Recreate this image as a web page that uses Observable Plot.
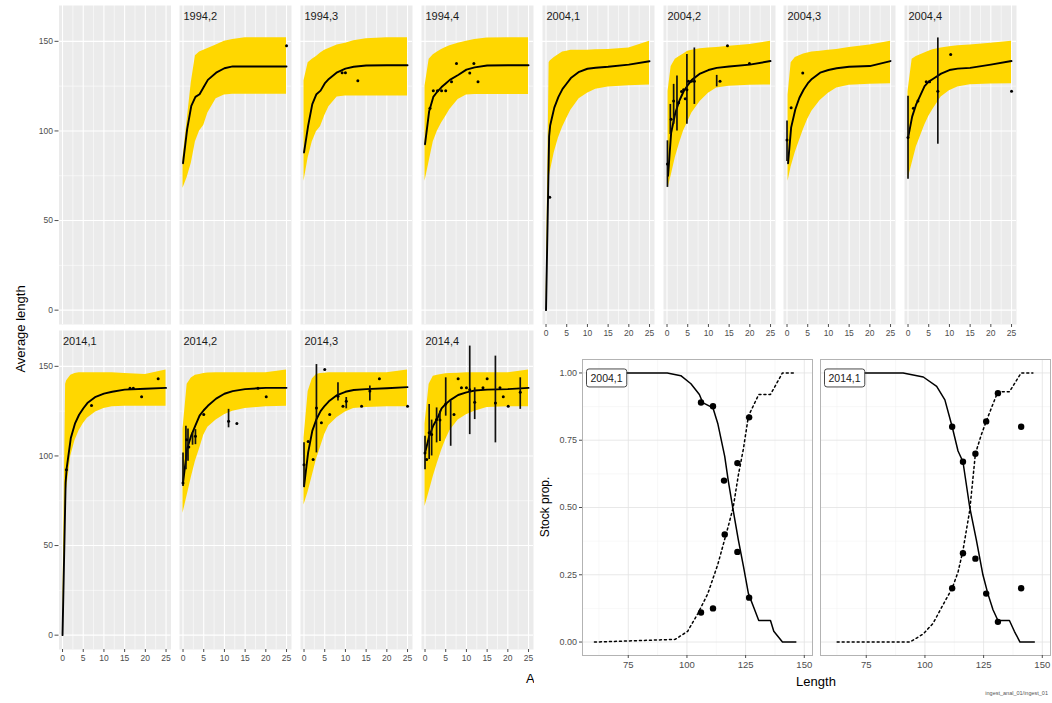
<!DOCTYPE html>
<html><head><meta charset="utf-8">
<script src="https://cdn.jsdelivr.net/npm/d3@7"></script>
<script src="https://cdn.jsdelivr.net/npm/@observablehq/plot@0.6"></script>
<style>
body{margin:0;background:#fff;}
#root{position:relative;width:1052px;height:703px;overflow:hidden;background:#fff;font-family:"Liberation Sans",Arial,Helvetica,sans-serif;}
.t{position:absolute;white-space:nowrap;color:#000;line-height:1;}
</style></head><body><div id="root"></div>
<script>
// ---------- growth facets: ages of the modelled curves ----------
const ageStd = [0, 1, 2, 3, 4, 5, 6, 8, 10, 12, 15, 20, 25];
const ageBirth = [0, 0.75, 1, 2, 3, 4, 5, 6, 8, 10, 12, 15, 20, 25];
const ageQ = [0.25, 1, 2, 3, 4, 5, 6, 8, 10, 12, 15, 20, 25];

// 1994,2
const mean_1994_2 = [82, 101, 114, 119, 120.5, 124.5, 128.5, 132.5, 135, 136, 136, 136, 136];
const hi_1994_2 = [85, 106, 127, 142, 144, 145, 146, 148, 150, 151, 152, 152, 152];
const lo_1994_2 = [68, 74, 82, 94, 100, 103, 110, 118, 120, 120.5, 120.5, 120.5, 120.5];
const obs_1994_2 = [[25, 147.5]];
const bars_1994_2 = [];
// 1994,3
const mean_1994_3 = [88, 103, 115, 120.5, 122.5, 126.5, 129, 132.7, 134.8, 135.8, 136.5, 136.7, 136.7];
const hi_1994_3 = [128, 138, 140, 141.5, 143.5, 145, 146, 148, 149, 150.3, 151.5, 152, 152];
const lo_1994_3 = [72, 85, 94, 99.5, 102.5, 108.5, 113.5, 119, 119.5, 119.5, 119.5, 119.5, 119.5];
const obs_1994_3 = [[9.2, 132.5], [10, 132.5], [13, 128]];
const bars_1994_3 = [];
// 1994,4
const mean_1994_4 = [92.6, 111, 119, 122, 124.5, 126.5, 128.5, 131.2, 134.2, 135.5, 136.5, 136.7, 136.7];
const hi_1994_4 = [125, 140, 142.5, 144, 145.5, 146.5, 147.5, 149, 150, 151, 151.8, 152, 152];
const lo_1994_4 = [72, 83, 94, 100, 104.5, 108, 112, 117.5, 120, 120.4, 120.4, 120.4, 120.4];
const obs_1994_4 = [[1.2, 112.6], [2, 122.5], [3, 122.5], [4, 122.5], [5, 122.5], [6.4, 127.4], [7.6, 137.6], [10.8, 132.4], [11.8, 137.6], [12.8, 127.4]];
const bars_1994_4 = [];
// 2004,1
const mean_2004_1 = [0, 97, 103, 113, 119, 123.5, 126.5, 129.5, 133, 134.7, 135.3, 135.8, 137, 138.9];
const hi_2004_1 = [0, 138, 139, 141, 142.5, 144, 144.5, 145, 145, 145, 145.3, 145.5, 146.3, 150];
const lo_2004_1 = [0, 74, 77, 88, 96, 102, 107, 111.5, 118, 121, 123.3, 124.5, 125.2, 125.7];
const obs_2004_1 = [[0.9, 63]];
const bars_2004_1 = [];
// 2004,2
const mean_2004_2 = [75, 99, 110, 117, 122, 125.5, 128.5, 132, 134, 135.2, 136, 137, 139];
const hi_2004_2 = [122, 136, 140, 141.5, 143, 144.5, 145, 145.8, 146.3, 146.5, 147.2, 148.2, 150];
const lo_2004_2 = [68, 75, 85, 93, 100, 105, 110, 116.5, 121, 124, 125, 125.5, 125.7];
const obs_2004_2 = [[0.1, 81.5], [1, 106.5], [1.6, 116.7], [2.8, 115.7], [3.5, 122], [4, 123], [4.4, 118], [4.8, 123], [5.2, 127.8], [5.9, 127.8], [6.6, 127.8], [12.8, 127.8], [14.6, 147.6], [19.9, 137.6]];
const bars_2004_2 = [[0.1, 68.5, 94.5], [0.8, 98, 114.8], [1.6, 103.7, 126], [2.4, 100, 130.6], [4.8, 103.7, 142.6], [6.6, 114.8, 146.3], [12, 124.6, 131]];
// 2004,3
const mean_2004_3 = [82, 102, 112, 118.5, 123, 126.5, 129, 132.5, 134, 135, 135.8, 136.2, 139];
const hi_2004_3 = [120, 138, 141, 142, 143, 143.5, 144, 144.5, 145, 145.5, 146.5, 148, 150];
const lo_2004_3 = [72, 80, 88, 94.5, 101, 106.5, 111, 117, 121, 124, 125.5, 126, 126.3];
const obs_2004_3 = [[0, 95], [1, 113], [3.8, 132.4]];
const bars_2004_3 = [[0, 83, 105.6]];
// 2004,4
const mean_2004_4 = [96, 108, 115, 120, 125, 127.5, 129, 132, 134, 134.8, 135.2, 137, 139];
const hi_2004_4 = [122, 140, 141.5, 142.5, 143.5, 144.5, 145.3, 146.3, 147, 147.5, 148, 149, 150];
const lo_2004_4 = [73, 82, 91, 97, 103, 108, 112, 119, 122.5, 124.5, 125.8, 126.2, 126.3];
const obs_2004_4 = [[0, 96.3], [1.3, 112.6], [2.4, 116.7], [4.4, 127.4], [5.2, 127.4], [7.2, 122.2], [10.3, 142.6], [25, 122.2]];
const bars_2004_4 = [[0, 73, 119.4], [7.2, 92.6, 151.9]];
// 2014,1
const mean_2014_1 = [0, 85, 93, 110, 118, 123, 126.5, 129.5, 133, 134.8, 135.8, 137, 137.5, 138];
const hi_2014_1 = [0, 140, 142, 145, 146, 146.4, 146.4, 146.4, 146.4, 146.4, 146.4, 146, 145.5, 148];
const lo_2014_1 = [0, 77, 82, 100, 108.5, 114, 118, 121, 124.5, 126.5, 127.5, 127.8, 127.8, 127.8];
const obs_2014_1 = [[0.94, 92.3], [7, 128.2], [16.3, 137.8], [17.1, 137.8], [19.1, 133], [23.1, 143.1]];
const bars_2014_1 = [];
// 2014,2
const mean_2014_2 = [85, 104, 111.5, 117, 122.5, 125.5, 128, 132, 134.7, 136.2, 137.3, 138, 138];
const hi_2014_2 = [115, 140, 143.5, 145, 145.5, 146, 146.3, 146.4, 146.4, 146.4, 146.4, 146.4, 148];
const lo_2014_2 = [68, 78, 88, 97, 104, 111.5, 116, 120, 123, 125, 126.5, 127.5, 127.8];
const obs_2014_2 = [[0, 84.9], [0.9, 109], [1.4, 105], [3, 111], [5, 123.1], [11, 119.4], [13, 118.1], [18.1, 137.8], [20.1, 133]];
const bars_2014_2 = [[0, 83, 101.7], [0.7, 92.3, 116.6], [1.2, 97, 115], [2.3, 106, 113], [3, 106.3, 114.7], [11, 115.7, 126]];
// 2014,3
const mean_2014_3 = [83, 102, 114, 120.5, 125, 128, 130.5, 134, 135.8, 136.8, 137.3, 137.8, 138.4];
const hi_2014_3 = [110, 136, 143, 145.5, 146, 146.2, 146.4, 146.4, 146.4, 146.4, 146.4, 146.4, 148];
const lo_2014_3 = [72.7, 80, 89, 98, 105, 112, 117, 121.5, 124.5, 126.5, 127, 127.4, 127.4];
const obs_2014_3 = [[0, 95.1], [1, 108], [2.2, 98], [3, 126.8], [4.2, 118.5], [5, 148.3], [6.2, 123.1], [8.2, 133.3], [9.4, 127.7], [10.2, 130.5], [13.9, 127.7], [15.9, 136.2], [18.2, 143.1], [25, 127.7]];
const bars_2014_3 = [[0, 83, 107.3], [3, 101.7, 151], [8.2, 130.6, 140.9], [10.2, 126.3, 132.6], [15.9, 130.6, 139]];
// 2014,4
const mean_2014_4 = [101.7, 111, 117, 121, 126.5, 129, 131, 134, 135.5, 136.5, 137, 137.3, 138];
const hi_2014_4 = [118, 140, 144.5, 145, 145.5, 145.8, 146, 146.2, 146.4, 146.4, 146.4, 146.4, 148];
const lo_2014_4 = [71.8, 80, 88.6, 96, 103, 109, 114, 120, 123, 125, 127, 127.4, 127.4];
const obs_2014_4 = [[0, 101.7], [0.4, 98], [1, 112.9], [1.6, 112], [2.8, 120.3], [3.6, 120], [5, 129], [7, 123.1], [8, 143.1], [8.8, 138], [10, 138], [10.8, 137], [12, 130], [14, 138], [15, 143.1], [17, 129.5], [18.1, 138], [18.9, 133], [20.1, 127.7], [23, 135.5]];
const bars_2014_4 = [[0, 92.3, 111], [1, 98, 128.7], [1.6, 100, 120], [2.8, 107.3, 126.8], [3.6, 108, 125], [5, 122.2, 143.6], [6.2, 105.4, 130.6], [10.8, 111.9, 161.3], [12, 120.3, 138], [17, 107.3, 155.7], [23, 126, 143.6]];

// axis ticks
const ageTicks = [0, 5, 10, 15, 20, 25];
const ageMinor = [2.5, 7.5, 12.5, 17.5, 22.5];
const lenTicks = [0, 50, 100, 150];
const lenMinor = [25, 75, 125];

// ---------- stock proportion panels ----------
const sp_2004_1_solidL = [60.6, 91.6, 97.4, 101.7, 105.3, 106.7, 111.1, 113.2, 116.1, 117.6, 119.7, 121.9, 124.1, 126.2, 128.4, 130.6, 135.6, 137.0, 140.7, 146.4];
const sp_2004_1_solidP = [1, 1, 0.99, 0.96, 0.92, 0.89, 0.87, 0.81, 0.69, 0.60, 0.49, 0.38, 0.28, 0.18, 0.13, 0.08, 0.08, 0.04, 0, 0];
const sp_2004_1_dotL = [60.6, 95.0, 100.3, 104.6, 108.9, 113.2, 117.6, 119.7, 121.9, 124.1, 126.2, 130.6, 135.6, 140.7, 146.4];
const sp_2004_1_dotP = [0, 0.01, 0.04, 0.105, 0.18, 0.29, 0.43, 0.50, 0.62, 0.72, 0.84, 0.92, 0.92, 1, 1];
const sp_2004_1_obs = [[106, 0.89], [111.1, 0.876], [115.8, 0.60], [116.1, 0.40], [121.5, 0.335], [121.5, 0.665], [126.5, 0.835], [126.5, 0.165], [106, 0.11], [111.1, 0.125]];

const sp_2014_1_solidL = [62.6, 90.7, 99.3, 105, 108.5, 111.6, 114.1, 116.2, 119.1, 121.9, 124.7, 126.8, 129, 131.1, 136, 138.1, 140.5, 146.6];
const sp_2014_1_solidP = [1, 1, 0.985, 0.95, 0.90, 0.80, 0.71, 0.67, 0.50, 0.38, 0.25, 0.18, 0.12, 0.08, 0.08, 0.04, 0, 0];
const sp_2014_1_dotL = [62.6, 93.6, 99.3, 103.5, 107.8, 111.6, 114.1, 116.2, 119.1, 121.5, 124.0, 126.1, 129, 131.1, 136, 141, 146];
const sp_2014_1_dotP = [0, 0, 0.03, 0.07, 0.14, 0.2, 0.26, 0.34, 0.49, 0.70, 0.77, 0.82, 0.885, 0.93, 0.93, 1, 1];
const sp_2014_1_obs = [[111.6, 0.80], [116.2, 0.67], [121.5, 0.70], [126.1, 0.82], [131.1, 0.925], [141, 0.80], [111.6, 0.20], [116.2, 0.33], [121.5, 0.31], [126.1, 0.18], [131.1, 0.075], [141, 0.20]];

const lengthTicks = [75, 100, 125, 150];
const lengthMinor = [62.5, 87.5, 112.5, 137.5];
const propTicks = [0, 0.25, 0.5, 0.75, 1];
const propMinor = [0.125, 0.375, 0.625, 0.875];

// ---------- layout ----------
const FONT = "Liberation Sans, Arial, Helvetica, sans-serif";
const root = document.getElementById("root");
const COL0 = 58.5, COL_STEP = 120.8, PW = 112, PH = 319;
const ROW_TOP = [5, 330];

function place(el, left, top) {
  el.style.position = "absolute";
  el.style.left = left + "px";
  el.style.top = top + "px";
  root.appendChild(el);
  return el;
}
function addText(txt, x, cy, size, rot, color, anchorRight) {
  const d = document.createElement("div");
  d.className = "t";
  d.textContent = txt;
  d.style.fontSize = size + "px";
  d.style.left = x + "px";
  d.style.top = cy + "px";
  if (color) d.style.color = color;
  d.style.transform = (anchorRight ? "translate(-100%,-50%)" : "translate(-50%,-50%)") + (rot ? " rotate(" + rot + "deg)" : "");
  root.appendChild(d);
  return d;
}

const growth = [
  {label: "1994,2", row: 0, col: 1, age: ageStd, mean: mean_1994_2, lo: lo_1994_2, hi: hi_1994_2, obs: obs_1994_2, bars: bars_1994_2},
  {label: "1994,3", row: 0, col: 2, age: ageStd, mean: mean_1994_3, lo: lo_1994_3, hi: hi_1994_3, obs: obs_1994_3, bars: bars_1994_3},
  {label: "1994,4", row: 0, col: 3, age: ageStd, mean: mean_1994_4, lo: lo_1994_4, hi: hi_1994_4, obs: obs_1994_4, bars: bars_1994_4},
  {label: "2004,1", row: 0, col: 4, age: ageBirth, mean: mean_2004_1, lo: lo_2004_1, hi: hi_2004_1, obs: obs_2004_1, bars: bars_2004_1},
  {label: "2004,2", row: 0, col: 5, age: ageQ, mean: mean_2004_2, lo: lo_2004_2, hi: hi_2004_2, obs: obs_2004_2, bars: bars_2004_2},
  {label: "2004,3", row: 0, col: 6, age: ageQ, mean: mean_2004_3, lo: lo_2004_3, hi: hi_2004_3, obs: obs_2004_3, bars: bars_2004_3},
  {label: "2004,4", row: 0, col: 7, age: ageStd, mean: mean_2004_4, lo: lo_2004_4, hi: hi_2004_4, obs: obs_2004_4, bars: bars_2004_4},
  {label: "2014,1", row: 1, col: 0, age: ageBirth, mean: mean_2014_1, lo: lo_2014_1, hi: hi_2014_1, obs: obs_2014_1, bars: bars_2014_1},
  {label: "2014,2", row: 1, col: 1, age: ageStd, mean: mean_2014_2, lo: lo_2014_2, hi: hi_2014_2, obs: obs_2014_2, bars: bars_2014_2},
  {label: "2014,3", row: 1, col: 2, age: ageStd, mean: mean_2014_3, lo: lo_2014_3, hi: hi_2014_3, obs: obs_2014_3, bars: bars_2014_3},
  {label: "2014,4", row: 1, col: 3, age: ageStd, mean: mean_2014_4, lo: lo_2014_4, hi: hi_2014_4, obs: obs_2014_4, bars: bars_2014_4}
];

function growthPanel(p, row, col) {
  const xAxis = (row === 0 && col >= 4) || row === 1;
  const yAxis = col === 0;
  const mL = yAxis ? COL0 : 0;
  const mB = xAxis ? 24 : 0;
  const marks = [
    Plot.frame({fill: "#EBEBEB", stroke: "none"}),
    Plot.ruleX(ageMinor, {stroke: "#fff", strokeWidth: 0.55}),
    Plot.ruleY(lenMinor, {stroke: "#fff", strokeWidth: 0.55}),
    Plot.ruleX(ageTicks, {stroke: "#fff", strokeWidth: 1.1}),
    Plot.ruleY(lenTicks, {stroke: "#fff", strokeWidth: 1.1})
  ];
  if (p) {
    const curve = p.age.map((a, i) => ({age: a, mean: p.mean[i], lo: p.lo[i], hi: p.hi[i]}));
    const obs = p.obs.map(([a, l]) => ({age: a, len: l}));
    const bars = p.bars.map(([a, lo, hi]) => ({age: a, lo, hi}));
    marks.push(
      Plot.areaY(curve, {x: "age", y1: "lo", y2: "hi", fill: "#FFD700"}),
      Plot.line(curve, {x: "age", y: "mean", stroke: "#000", strokeWidth: 1.9}),
      Plot.ruleX(bars, {x: "age", y1: "lo", y2: "hi", stroke: "#111", strokeWidth: 1.7}),
      Plot.dot(obs, {x: "age", y: "len", r: 1.5, fill: "#000", stroke: "none"}),
      Plot.text([p.label], {text: d => d, frameAnchor: "top-left", dx: 4, dy: 7, fontSize: 11, fill: "#1A1A1A"})
    );
  }
  if (xAxis) marks.push(Plot.axisX({ticks: ageTicks, tickSize: 3, tickPadding: 2, fontSize: 8.5, color: "#4D4D4D", label: null}));
  if (yAxis) marks.push(Plot.axisY({ticks: lenTicks, tickSize: 4, tickPadding: 2, fontSize: 8.5, color: "#4D4D4D", label: null}));
  const svg = Plot.plot({
    width: mL + PW, height: PH + mB,
    marginLeft: mL, marginRight: 0, marginTop: 0, marginBottom: mB,
    x: xAxis ? {domain: [-0.85, 26.2]} : {domain: [-0.85, 26.2], axis: null},
    y: yAxis ? {domain: [-8, 170]} : {domain: [-8, 170], axis: null},
    style: {background: "transparent", fontFamily: FONT, overflow: "visible"},
    marks
  });
  place(svg, COL0 + COL_STEP * col - mL, ROW_TOP[row]);
}

// empty first facet
growthPanel(null, 0, 0);
for (const p of growth) growthPanel(p, p.row, p.col);

// axis titles of the growth grid
addText("Average length", 20, 329, 13, -90);
addText("Age", 537.5, 678, 13, 0);

// white overlay for the stock-proportion figure
const cover = document.createElement("div");
cover.style.background = "#fff";
cover.style.width = "518px";
cover.style.height = "363px";
place(cover, 534, 340);

const stocks = [
  {label: "2004,1", left: 582, solidL: sp_2004_1_solidL, solidP: sp_2004_1_solidP, dotL: sp_2004_1_dotL, dotP: sp_2004_1_dotP, obs: sp_2004_1_obs, yAxis: true},
  {label: "2014,1", left: 820, solidL: sp_2014_1_solidL, solidP: sp_2014_1_solidP, dotL: sp_2014_1_dotL, dotP: sp_2014_1_dotP, obs: sp_2014_1_obs, yAxis: false}
];

for (const s of stocks) {
  const mL = s.yAxis ? 47 : 0, mB = 22;
  const solid = s.solidL.map((l, i) => ({L: l, p: s.solidP[i]}));
  const dotted = s.dotL.map((l, i) => ({L: l, p: s.dotP[i]}));
  const obs = s.obs.map(([l, p]) => ({L: l, p}));
  const marks = [
    Plot.frame({fill: "#fff", stroke: "none"}),
    Plot.ruleX(lengthMinor, {stroke: "#F0F0F0", strokeWidth: 0.5}),
    Plot.ruleY(propMinor, {stroke: "#F0F0F0", strokeWidth: 0.5}),
    Plot.ruleX(lengthTicks, {stroke: "#E2E2E2", strokeWidth: 0.8}),
    Plot.ruleY(propTicks, {stroke: "#E2E2E2", strokeWidth: 0.8}),
    Plot.line(solid, {x: "L", y: "p", stroke: "#000", strokeWidth: 1.5}),
    Plot.line(dotted, {x: "L", y: "p", stroke: "#000", strokeWidth: 1.5, strokeDasharray: "2,3"}),
    Plot.dot(obs, {x: "L", y: "p", r: 3.2, fill: "#000", stroke: "none"}),
    Plot.frame({stroke: "#B3B3B3", strokeWidth: 1}),
    Plot.text([s.label], {text: d => d, frameAnchor: "top-left", dx: 8, dy: 15, fontSize: 10.5, fill: "#1A1A1A"}),
    Plot.axisX({ticks: lengthTicks, tickSize: 3, tickPadding: 2.5, fontSize: 9.5, color: "#4D4D4D", label: null})
  ];
  if (s.yAxis) marks.push(Plot.axisY({ticks: propTicks, tickFormat: d3.format(".2f"), tickSize: 3, tickPadding: 2.5, fontSize: 9, color: "#4D4D4D", label: null}));
  const svg = Plot.plot({
    width: mL + 230, height: 296 + mB,
    marginLeft: mL, marginRight: 0, marginTop: 0, marginBottom: mB,
    x: {domain: [55.5, 153.5]},
    y: s.yAxis ? {domain: [-0.05, 1.05]} : {domain: [-0.05, 1.05], axis: null},
    style: {background: "transparent", fontFamily: FONT, overflow: "visible"},
    marks
  });
  place(svg, s.left - mL, 359);
  // label box (geom_label style)
  d3.select(svg).selectAll("text").filter(function() { return this.textContent === s.label; }).each(function() {
    const bb = this.getBBox();
    const r = document.createElementNS("http://www.w3.org/2000/svg", "rect");
    r.setAttribute("x", bb.x - 4);
    r.setAttribute("y", bb.y - 3);
    r.setAttribute("width", bb.width + 8);
    r.setAttribute("height", bb.height + 6);
    r.setAttribute("rx", 2.5);
    r.setAttribute("fill", "#fff");
    r.setAttribute("stroke", "#333");
    r.setAttribute("stroke-width", 0.9);
    const tr = this.getAttribute("transform");
    if (tr) r.setAttribute("transform", tr);
    this.parentNode.insertBefore(r, this);
  });
}

addText("Stock prop.", 545, 507, 12, -90);
addText("Length", 816, 681, 13, 0);
addText("ingest_anal_01/ingest_01", 1048, 694, 5.5, 0, "#555", true);
</script></body></html>
